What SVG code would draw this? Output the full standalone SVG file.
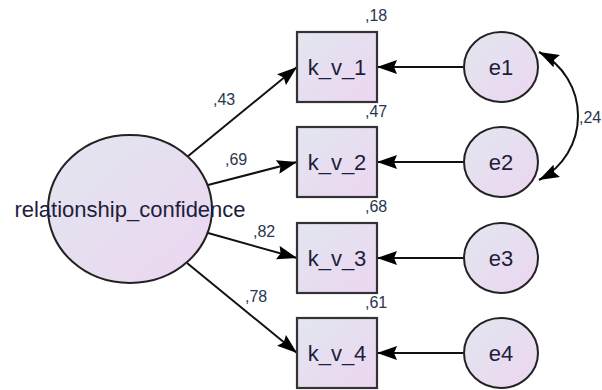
<svg xmlns="http://www.w3.org/2000/svg" width="602" height="390" viewBox="0 0 602 390">
<defs>
<linearGradient id="g" x1="0" y1="0" x2="1" y2="1">
<stop offset="0" stop-color="#e2e6ef"/>
<stop offset="1" stop-color="#ecd6f1"/>
</linearGradient>
<marker id="ah" viewBox="0 0 20 14" refX="20" refY="7" markerWidth="20" markerHeight="14" markerUnits="userSpaceOnUse" orient="auto-start-reverse">
<path d="M0,0 L20,7 L0,14 L3,7 Z" fill="#000"/>
</marker>
<style>
.box{fill:url(#g);stroke:#333;stroke-width:2.2}
.ell{fill:url(#g);stroke:#222;stroke-width:2}
.t{font-family:"Liberation Sans",Arial,sans-serif;font-size:22px;fill:#1e1e3c;text-anchor:middle}
.lab{font-family:"Liberation Sans",Arial,sans-serif;font-size:16px;fill:#2a3550}
.c{stroke:#111;stroke-width:2;fill:none;marker-end:url(#ah)}
</style>
</defs>
<rect width="602" height="390" fill="#fff"/>
<g id="connectors">
<line class="c" x1="187" y1="157" x2="297" y2="67"/>
<line class="c" x1="208" y1="185" x2="297" y2="162"/>
<line class="c" x1="208" y1="233" x2="297" y2="258"/>
<line class="c" x1="187" y1="263" x2="297" y2="353"/>
<line class="c" x1="463" y1="67" x2="377" y2="67"/>
<line class="c" x1="463" y1="162" x2="377" y2="162"/>
<line class="c" x1="463" y1="258" x2="377" y2="258"/>
<line class="c" x1="463" y1="353" x2="377" y2="353"/>
<path class="c" d="M539,52 A72,72 0 0 1 539,180" style="marker-start:url(#ah)"/>
<text class="lab" x="213" y="105">,43</text>
<text class="lab" x="225" y="165">,69</text>
<text class="lab" x="253" y="237">,82</text>
<text class="lab" x="245" y="302">,78</text>
<text class="lab" x="579" y="123">,24</text>
</g>
<g id="relationship_confidence">
<ellipse class="ell" cx="130" cy="209" rx="82" ry="74"/>
<text class="t" x="130" y="217">relationship_confidence</text>
</g>
<g id="k_v_1">
<rect class="box" x="297" y="32" width="80" height="70"/>
<text class="t" x="337" y="75">k_v_1</text>
<text class="lab" x="365" y="21">,18</text>
</g>
<g id="k_v_2">
<rect class="box" x="297" y="127" width="80" height="70"/>
<text class="t" x="337" y="170">k_v_2</text>
<text class="lab" x="365" y="117">,47</text>
</g>
<g id="k_v_3">
<rect class="box" x="297" y="223" width="80" height="70"/>
<text class="t" x="337" y="266">k_v_3</text>
<text class="lab" x="365" y="212">,68</text>
</g>
<g id="k_v_4">
<rect class="box" x="297" y="318" width="80" height="70"/>
<text class="t" x="337" y="361">k_v_4</text>
<text class="lab" x="365" y="308">,61</text>
</g>
<g id="e1">
<ellipse class="ell" cx="501" cy="67" rx="37" ry="35"/>
<text class="t" x="501" y="75">e1</text>
</g>
<g id="e2">
<ellipse class="ell" cx="501" cy="162" rx="37" ry="35"/>
<text class="t" x="501" y="170">e2</text>
</g>
<g id="e3">
<ellipse class="ell" cx="501" cy="258" rx="37" ry="35"/>
<text class="t" x="501" y="266">e3</text>
</g>
<g id="e4">
<ellipse class="ell" cx="501" cy="353" rx="37" ry="35"/>
<text class="t" x="501" y="361">e4</text>
</g>
</svg>
